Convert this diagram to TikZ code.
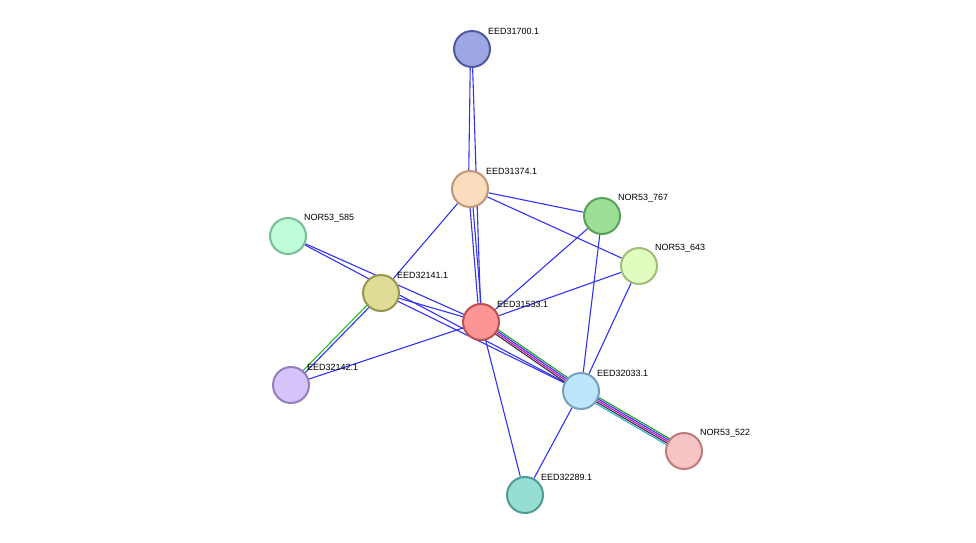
\documentclass[tikz,border=0pt]{standalone}
\usepackage{fontspec}
\setmainfont{Liberation Sans}
\usetikzlibrary{backgrounds,calc}
\definecolor{eb}{RGB}{50,50,240}
\begin{document}
\begin{tikzpicture}[x=1pt,y=-1pt,
  nd/.style={circle,minimum size=36pt,inner sep=0pt,line width=2pt},
  lb/.style={font=\fontsize{9}{11}\selectfont,anchor=south west,inner sep=1pt},
  e/.style={draw=eb,line width=1.1pt}]
\useasboundingbox (0,0) rectangle (976,542);
\newcommand\Nd[7]{\node[nd,fill={rgb,255:#4},draw={rgb,255:#5}] (#1) at (#2,#3) {};
  \node[lb] (#1l) at ($(#1)+(15,-13)$) {#6};}
\Nd{a}{472}{49}{red,157;green,167;blue,228}{red,80;green,90;blue,160}{EED31700.1}{}
\Nd{b}{470}{189}{red,252;green,220;blue,190}{red,190;green,150;blue,120}{EED31374.1}{}
\Nd{c}{602}{216}{red,156;green,222;blue,150}{red,90;green,160;blue,90}{NOR53\_767}{}
\Nd{d}{639}{266}{red,225;green,252;blue,190}{red,160;green,190;blue,120}{NOR53\_643}{}
\Nd{f}{288}{236}{red,190;green,252;blue,218}{red,120;green,190;blue,150}{NOR53\_585}{}
\Nd{g}{381}{293}{red,222;green,220;blue,150}{red,150;green,150;blue,80}{EED32141.1}{}
\Nd{h}{481}{322}{red,252;green,150;blue,150}{red,190;green,80;blue,80}{EED31533.1}{}
\Nd{i}{291}{385}{red,212;green,196;blue,250}{red,150;green,125;blue,190}{EED32142.1}{}
\Nd{j}{581}{391}{red,190;green,230;blue,250}{red,120;green,160;blue,190}{EED32033.1}{}
\Nd{k}{684}{451}{red,246;green,196;blue,196}{red,190;green,125;blue,125}{NOR53\_522}{}
\Nd{m}{525}{495}{red,150;green,222;blue,212}{red,80;green,155;blue,150}{EED32289.1}{}
\begin{scope}[on background layer]
\draw[e] ([xshift=-1.5]a.center) -- ([xshift=-1.5]b.center);
\draw[e] (a) -- (h);
\draw[e] (b) -- (g);
\draw[e] ([xshift=-1.5]b.center) -- ([xshift=-1.5]h.center);
\draw[e] ([xshift=1.5]b.center) -- ([xshift=1.5]h.center);
\draw[e] (b) -- (c); \draw[e] (b) -- (d);
\draw[e] (c) -- (h); \draw[e] (c) -- (j);
\draw[e] (d) -- (h); \draw[e] (d) -- (j);
\draw[e] (f) -- (h); \draw[e] (f) -- (j);
\draw[e] (g) -- (h); \draw[e] (g) -- (j);
\draw[e] (h) -- (i); \draw[e] (h) -- (m); \draw[e] (j) -- (m);
\draw[e] ([shift={(1.2,0.9)}]g.center) -- ([shift={(1.2,0.9)}]i.center);
\draw[e,draw={rgb,255:red,40;green,190;blue,40}] ([shift={(-1.2,-0.9)}]g.center) -- ([shift={(-1.2,-0.9)}]i.center);
\foreach \k/\col in {2/{rgb,255:red,30;green,160;blue,30},1/eb,0/{rgb,255:red,200;green,0;blue,200},-1/{rgb,255:red,50;green,50;blue,50}}{
  \draw[line width=1.1pt,draw=\col] ($(h)+(\k*0.9,-\k*1.45)$) -- ($(j)+(\k*0.9,-\k*1.45)$);}
\foreach \k/\col in {2/{rgb,255:red,30;green,160;blue,30},1/eb,0/{rgb,255:red,200;green,0;blue,200},-1/{rgb,255:red,50;green,50;blue,50},-2/{rgb,255:red,40;green,180;blue,210}}{
  \draw[line width=1.1pt,draw=\col] ($(j)+(\k*0.9,-\k*1.45)$) -- ($(k)+(\k*0.9,-\k*1.45)$);}
\end{scope}
\end{tikzpicture}
\end{document}
